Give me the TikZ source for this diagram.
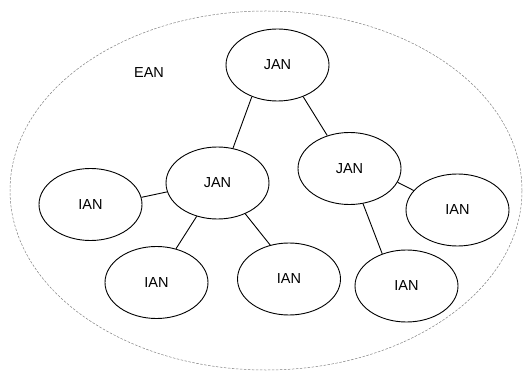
\documentclass[tikz,border=0pt]{standalone}
\usepackage{fontspec}
\setmainfont{Liberation Sans}
\usetikzlibrary{shapes.geometric}
\begin{document}
\begin{tikzpicture}[x=1pt,y=-1pt,
  net/.style={ellipse,draw,line width=0.9pt,minimum width=103pt,minimum height=72pt,inner sep=0pt,font=\fontsize{14.5}{16}\selectfont},
  link/.style={line width=0.9pt},
  areabound/.style={ellipse,draw=gray,line width=0.5pt,dash pattern=on 2.5pt off 1.5pt,minimum width=512pt,minimum height=359pt,inner sep=0pt}]
\useasboundingbox (0,0) rectangle (524,371);
% outer area boundary and its label
\node[areabound] (ean) at (266,190.5) {};
\node[font=\fontsize{14.5}{16}\selectfont] (eanlabel) at (149,73) {EAN};
% junction nodes
\node[net] (j1) at (277.5,65) {JAN};
\node[net] (j2) at (217.5,183) {JAN};
\node[net] (j3) at (349.5,168.5) {JAN};
% interior nodes
\node[net] (i1) at (90.5,204.5) {IAN};
\node[net] (i2) at (156.5,282.5) {IAN};
\node[net] (i3) at (289,279) {IAN};
\node[net] (i4) at (457.5,210) {IAN};
\node[net] (i5) at (406.5,286) {IAN};
% links
\draw[link] (j1.231) -- (j2.66);
\draw[link] (j1.309) -- (j3.124);
\draw[link] (j2.190) -- (i1.8);
\draw[link] (j2.238) -- (i2.60);
\draw[link] (j2.312) -- (i3.119);
\draw[link] (j3.344) -- (i4.156);
\draw[link] (j3.291) -- (i5.127);
\end{tikzpicture}
\end{document}
